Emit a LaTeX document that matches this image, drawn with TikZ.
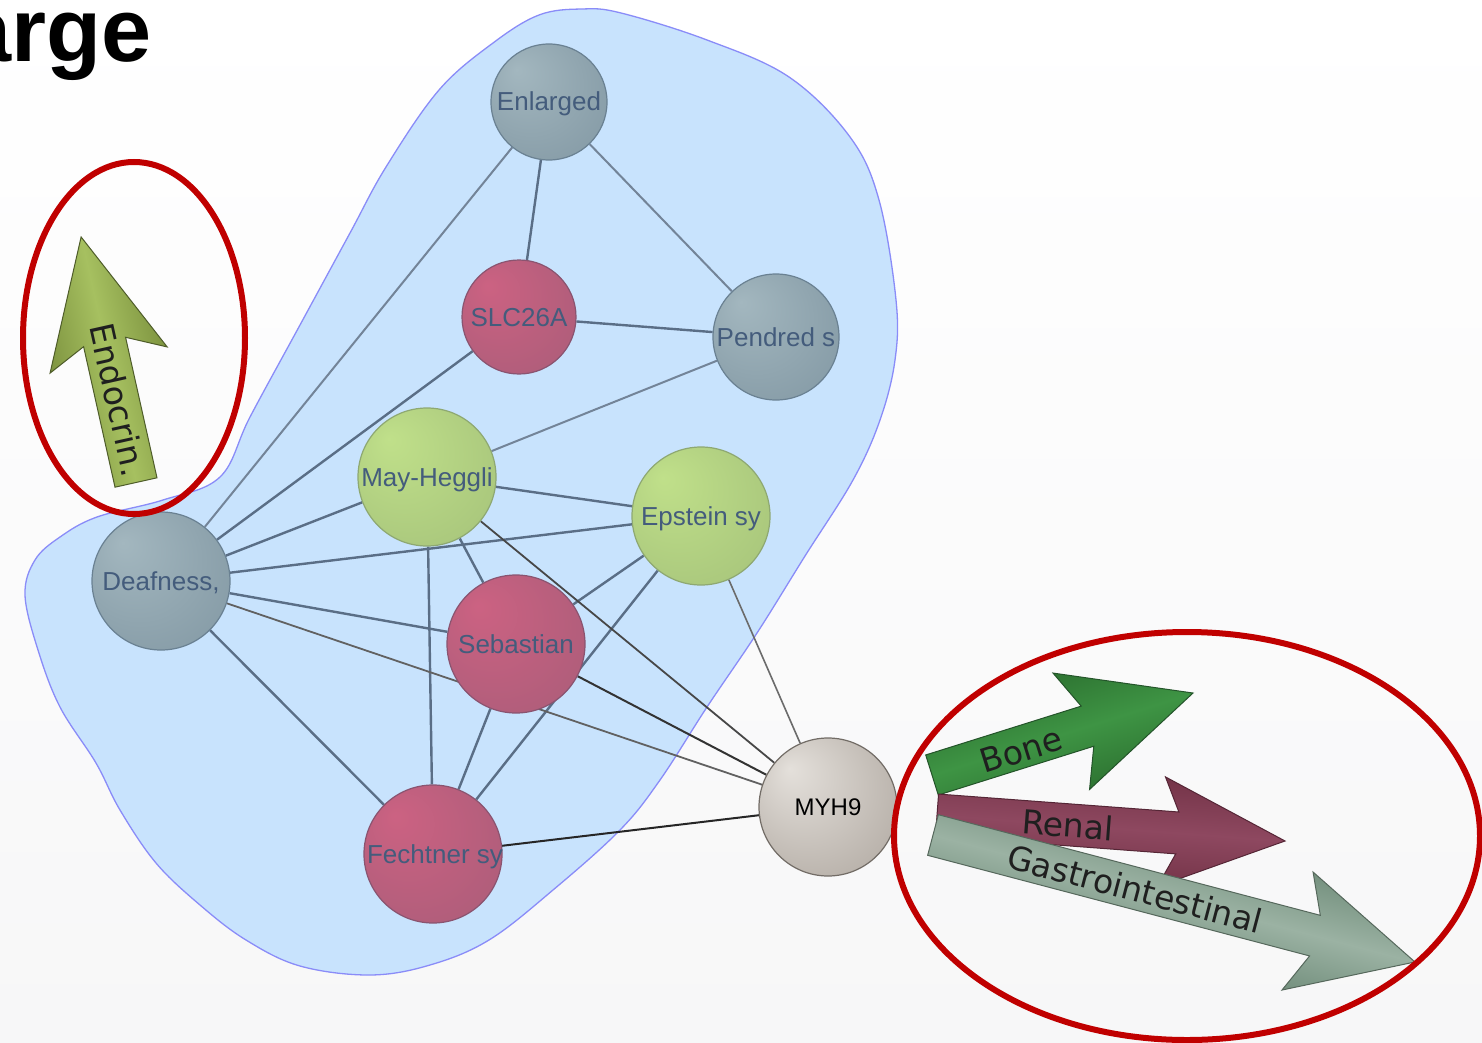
\documentclass[tikz,border=0pt]{standalone}
\usepackage{fontspec}
\setmainfont{Liberation Sans}
\newfontfamily\arrowfont{DejaVu Sans}
\definecolor{grayL}{HTML}{A3B7BF}
\definecolor{grayD}{HTML}{7E94A0}
\definecolor{grayO}{HTML}{6A8192}
\definecolor{redL}{HTML}{CC6282}
\definecolor{redD}{HTML}{A65C78}
\definecolor{redO}{HTML}{8A5470}
\definecolor{grnL}{HTML}{C0E08A}
\definecolor{grnD}{HTML}{A2BF78}
\definecolor{grnO}{HTML}{8EA872}
\definecolor{myhL}{HTML}{E4E0DB}
\definecolor{myhD}{HTML}{A9A199}
\definecolor{myhO}{HTML}{726C66}
\definecolor{blobF}{HTML}{C8E3FD}
\definecolor{blobO}{HTML}{8A8CF8}
\definecolor{edgeC}{HTML}{5A6E86}
\definecolor{lblC}{HTML}{445C7C}
\definecolor{ringC}{HTML}{C00000}
\definecolor{endoE}{HTML}{7E9440}
\definecolor{endoM}{HTML}{A6C060}
\definecolor{endoO}{HTML}{4E5C2A}
\definecolor{boneE}{HTML}{2E7432}
\definecolor{boneM}{HTML}{3E9444}
\definecolor{boneO}{HTML}{24542A}
\definecolor{renE}{HTML}{743448}
\definecolor{renM}{HTML}{8E4860}
\definecolor{renO}{HTML}{552636}
\definecolor{gasE}{HTML}{74907E}
\definecolor{gasM}{HTML}{9BB2A3}
\definecolor{gasO}{HTML}{56685C}
\pgfdeclareradialshading{ballgray}{\pgfpoint{-14bp}{14bp}}{color(0bp)=(grayL); color(45bp)=(grayD); color(50bp)=(grayD)}
\pgfdeclareradialshading{ballred}{\pgfpoint{-14bp}{14bp}}{color(0bp)=(redL); color(45bp)=(redD); color(50bp)=(redD)}
\pgfdeclareradialshading{ballgrn}{\pgfpoint{-14bp}{14bp}}{color(0bp)=(grnL); color(45bp)=(grnD); color(50bp)=(grnD)}
\pgfdeclareradialshading{ballmyh}{\pgfpoint{-14bp}{14bp}}{color(0bp)=(myhL); color(45bp)=(myhD); color(50bp)=(myhD)}
\pgfdeclarelayer{back}
\pgfdeclarelayer{mid}
\pgfsetlayers{back,mid,main}
\begin{document}
\begin{tikzpicture}[x=1pt,y=-1pt,
  ball/.style={circle, inner sep=0pt, line width=1.2pt},
  gball/.style={ball, shading=ballgray, draw=grayO},
  rball/.style={ball, shading=ballred, draw=redO},
  vball/.style={ball, shading=ballgrn, draw=grnO},
  mball/.style={ball, shading=ballmyh, draw=myhO},
  lbl/.style={font=\fontsize{26}{30}\selectfont, text=lblC, inner sep=0pt, anchor=base},
  edge/.style={draw=edgeC, line width=2.4pt},
  edgelt/.style={draw=edgeC!85!white, line width=2pt},
  myedge/.style={draw=black!72, line width=1.8pt},
  ring/.style={draw=ringC, line width=6pt},
  arrtxt/.style={font=\arrowfont\fontsize{33}{38}\selectfont, text=black!88, inner sep=0pt},
  blob/.style={fill=blobF, draw=blobO, line width=1.3pt}]
\useasboundingbox (0,0) rectangle (1482,1043);
\begin{pgfonlayer}{back}
\shade[top color=white, middle color=white!60!blue!3!white, bottom color=blue!4!gray!6!white] (0,0) rectangle (1482,1043);
\filldraw[blob] plot[smooth cycle, tension=0.6] coordinates {(582,9) (621,13) (707,40) (789,77) (850,137) (879,200) (896,300) (895,360) (880,420) (853,480) (805,556) (757,633) (707,707) (660,780) (620,830) (553,890) (489,940) (430,965) (370,975) (300,966) (246,940) (200,905) (156,863) (120,810) (96,763) (60,707) (38,650) (25,595) (35,560) (60,537) (97,517) (163,500) (220,477) (250,417) (300,325) (350,233) (386,167) (439,90) (493,43) (539,15)};
\end{pgfonlayer}

\node[font=\bfseries\fontsize{90}{98}\selectfont, anchor=base west, inner sep=0pt] (title) at (-39,62) {arge};

\node[gball, minimum size=116pt] (Enl) at (549,102) {};
\node[rball, minimum size=114pt] (SLC) at (519,317) {};
\node[gball, minimum size=126pt] (Pen) at (776,337) {};
\node[vball, minimum size=138pt] (May) at (427,477) {};
\node[vball, minimum size=138pt] (Eps) at (701,516) {};
\node[gball, minimum size=138pt] (Dea) at (161,581) {};
\node[rball, minimum size=138pt] (Seb) at (516,644) {};
\node[rball, minimum size=138pt] (Fec) at (433,854) {};
\node[mball, minimum size=138pt] (MYH) at (828,807) {};

\node[lbl] (tEnl) at ([yshift=-9pt]Enl.center) {Enlarged};
\node[lbl] (tSLC) at ([yshift=-9pt]SLC.center) {SLC26A};
\node[lbl] (tPen) at ([yshift=-9pt]Pen.center) {Pendred s};
\node[lbl] (tMay) at ([yshift=-9pt]May.center) {May-Heggli};
\node[lbl] (tEps) at ([yshift=-9pt]Eps.center) {Epstein sy};
\node[lbl] (tDea) at ([yshift=-9pt]Dea.center) {Deafness,};
\node[lbl] (tSeb) at ([yshift=-9pt]Seb.center) {Sebastian};
\node[lbl] (tFec) at ([yshift=-9pt,xshift=2pt]Fec.center) {Fechtner sy};
\node[lbl, font=\fontsize{24}{28}\selectfont, text=black] (tMYH) at ([yshift=-8pt]MYH.center) {MYH9};

\begin{pgfonlayer}{mid}
\draw[edge] (Enl) -- (SLC);
\draw[edgelt] (Enl) -- (Pen);
\draw[edgelt] (Enl) -- (Dea);
\draw[edge] (SLC) -- (Pen);
\draw[edge] (SLC) -- (Dea);
\draw[edgelt] (Pen) -- (May);
\draw[edge] (Dea) -- (May);
\draw[edge] (Dea) -- (Eps);
\draw[edge] (Dea) -- (Seb);
\draw[edge] (Dea) -- (Fec);
\draw[edge] (May) -- (Eps);
\draw[edge] (May) -- (Seb);
\draw[edge] (May) -- (Fec);
\draw[edge] (Eps) -- (Seb);
\draw[edge] (Eps) -- (Fec);
\draw[edge] (Seb) -- (Fec);
\draw[myedge, draw=black!62] (Dea) -- (MYH);
\draw[myedge] (May) -- (MYH);
\draw[myedge, draw=black!58, line width=1.6pt] (Eps) -- (MYH);
\draw[myedge, draw=black!80, line width=2pt] (Seb) -- (MYH);
\draw[myedge, draw=black!85, line width=2pt] (Fec) -- (MYH);
\end{pgfonlayer}

% Endocrin arrow
\begin{scope}[transform canvas={shift={(136,482.5)}, rotate=102.6}]
\shadedraw[top color=endoE, bottom color=endoE, middle color=endoM, draw=endoO, line width=1pt]
  (0,-21.5) -- (144,-21.5) -- (125.5,-60) -- (251.6,0) -- (125.5,60) -- (144,21.5) -- (0,21.5) -- cycle;
\end{scope}
% Bone arrow
\begin{scope}[transform canvas={shift={(932,775)}, rotate=17.44}]
\shadedraw[top color=boneE, bottom color=boneE, middle color=boneM, draw=boneO, line width=1pt]
  (0,-21) -- (163,-21) -- (146,-61) -- (273.6,0) -- (146,61) -- (163,21) -- (0,21) -- cycle;
\end{scope}
% Renal arrow
\begin{scope}[transform canvas={shift={(937,815)}, rotate=-4.27}]
\shadedraw[top color=renE, bottom color=renE, middle color=renM, draw=renO, line width=1pt]
  (0,-21) -- (241,-21) -- (225,-55) -- (349,0) -- (225,55) -- (241,21) -- (0,21) -- cycle;
\end{scope}
% Gastrointestinal arrow
\begin{scope}[transform canvas={shift={(933,835)}, rotate=-14.76}]
\shadedraw[top color=gasE, bottom color=gasE, middle color=gasM, draw=gasO, line width=1pt]
  (0,-21) -- (395,-21) -- (377,-61) -- (498.4,0) -- (377,61) -- (395,21) -- (0,21) -- cycle;
\end{scope}

\node[arrtxt, rotate=-77.4] (tEndo) at (118,400) {Endocrin.};
\node[arrtxt, rotate=17.44] (tBone) at (1021,750) {Bone};
\node[arrtxt, rotate=-4.27] (tRenal) at (1068,825) {Renal};
\node[arrtxt, rotate=-14.76] (tGastro) at (1135,889) {Gastrointestinal};

\draw[ring] (134,338) ellipse [x radius=111pt, y radius=176pt];
\draw[ring] (1187,836) ellipse [x radius=293pt, y radius=204pt];
\end{tikzpicture}
\end{document}
